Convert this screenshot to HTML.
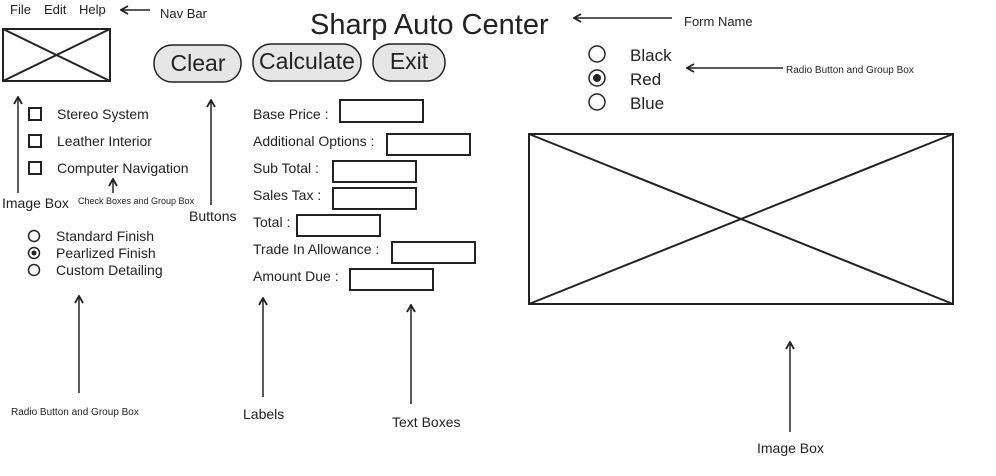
<!DOCTYPE html>
<html><head><meta charset="utf-8"><style>
html,body{margin:0;padding:0;background:#fff;width:996px;height:476px;overflow:hidden}
text{font-family:"Liberation Sans",Arial,sans-serif;fill:#222}
</style></head><body>
<svg width="996" height="476" viewBox="0 0 996 476" xmlns="http://www.w3.org/2000/svg">
<defs><marker id="a" markerWidth="10" markerHeight="10" refX="1" refY="5" orient="auto" markerUnits="userSpaceOnUse"><path d="M8,1 L1,5 L8,9" fill="none" stroke="#222" stroke-width="1.8"/></marker></defs>
<g font-size="13">
<text x="10" y="14">File</text><text x="44" y="14">Edit</text><text x="79" y="14">Help</text>
<text x="160" y="18">Nav Bar</text>
<text x="684" y="26">Form Name</text>
</g>
<text x="310" y="34" font-size="29">Sharp Auto Center</text>
<g stroke="#222" stroke-width="1.5" fill="none" marker-start="url(#a)">
<line x1="121" y1="10" x2="150" y2="10"/>
<line x1="574" y1="18" x2="672" y2="18"/>
<line x1="687" y1="68" x2="783" y2="68"/>
<line x1="18" y1="97" x2="18" y2="193"/>
<line x1="113" y1="179" x2="113" y2="193"/>
<line x1="211" y1="100" x2="211" y2="205"/>
<line x1="79" y1="296" x2="79" y2="393"/>
<line x1="263" y1="298" x2="263" y2="397"/>
<line x1="411" y1="305" x2="411" y2="404"/>
<line x1="790" y1="342" x2="790" y2="432"/>
</g>
<g stroke="#222" stroke-width="2" fill="none">
<rect x="3" y="29" width="107" height="52"/><line x1="3" y1="29" x2="110" y2="81"/><line x1="110" y1="29" x2="3" y2="81"/>
<rect x="529" y="134" width="424" height="170"/><line x1="529" y1="134" x2="953" y2="304"/><line x1="953" y1="134" x2="529" y2="304"/>
<rect x="340" y="100" width="83" height="22"/>
<rect x="387" y="134" width="83" height="21"/>
<rect x="333" y="161" width="83" height="21"/>
<rect x="333" y="188" width="83" height="21"/>
<rect x="297" y="215" width="83" height="21"/>
<rect x="392" y="242" width="83" height="21"/>
<rect x="350" y="269" width="83" height="21"/>
<rect x="29" y="108" width="12" height="12"/><rect x="29" y="135" width="12" height="12"/><rect x="29" y="162" width="12" height="12"/>
</g>
<g stroke="#222" stroke-width="1.5" fill="#e6e6e6">
<rect x="154" y="45" width="87" height="37" rx="18"/>
<rect x="253" y="44" width="108" height="37" rx="18"/>
<rect x="373" y="44" width="72" height="37" rx="18"/>
</g>
<g font-size="23" text-anchor="middle"><text x="198" y="71">Clear</text><text x="307" y="69">Calculate</text><text x="409" y="69">Exit</text></g>
<g font-size="14" fill="#333">
<text x="57" y="119">Stereo System</text><text x="57" y="146">Leather Interior</text><text x="57" y="173">Computer Navigation</text>
<text x="56" y="241">Standard Finish</text><text x="56" y="258">Pearlized Finish</text><text x="56" y="275">Custom Detailing</text>
<text x="253" y="119">Base Price :</text><text x="253" y="146">Additional Options :</text><text x="253" y="173">Sub Total :</text>
<text x="253" y="200">Sales Tax :</text><text x="253" y="227">Total :</text><text x="253" y="254">Trade In Allowance :</text><text x="253" y="281">Amount Due :</text>
<text x="2" y="208">Image Box</text><text x="189" y="221">Buttons</text>
<text x="243" y="419">Labels</text><text x="392" y="427">Text Boxes</text><text x="757" y="453">Image Box</text>
</g>
<g font-size="9"><text x="78" y="204">Check Boxes and Group Box</text></g>
<g font-size="10"><text x="786" y="73">Radio Button and Group Box</text><text x="11" y="415">Radio Button and Group Box</text></g>
<g stroke="#222" stroke-width="1.5" fill="none">
<circle cx="34" cy="236" r="5.5"/><circle cx="34" cy="253" r="5.5"/><circle cx="34" cy="270" r="5.5"/>
<circle cx="597" cy="54" r="8"/><circle cx="597" cy="78" r="8"/><circle cx="597" cy="102" r="8"/>
</g>
<circle cx="34" cy="253" r="2.5" fill="#222"/><circle cx="597" cy="78" r="4" fill="#222"/>
<g font-size="17"><text x="630" y="61">Black</text><text x="630" y="85">Red</text><text x="630" y="109">Blue</text></g>
</svg>
</body></html>
